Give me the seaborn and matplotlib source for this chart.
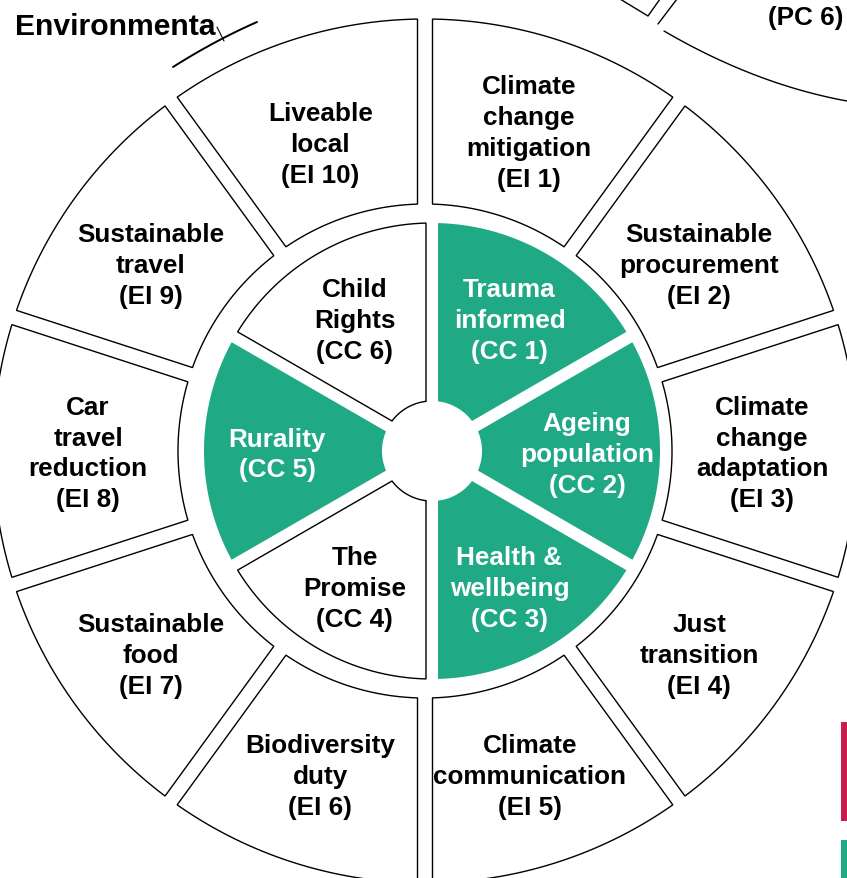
import numpy as np
import matplotlib.pyplot as plt
import seaborn as sns
from matplotlib.patches import Polygon, Rectangle

# ---- Daten ----
outer_labels = [
    "Climate\nchange\nmitigation\n(EI 1)",
    "Sustainable\nprocurement\n(EI 2)",
    "Climate\nchange\nadaptation\n(EI 3)",
    "Just\ntransition\n(EI 4)",
    "Climate\ncommunication\n(EI 5)",
    "Biodiversity\nduty\n(EI 6)",
    "Sustainable\nfood\n(EI 7)",
    "Car\ntravel\nreduction\n(EI 8)",
    "Sustainable\ntravel\n(EI 9)",
    "Liveable\nlocal\n(EI 10)",
]
inner_labels = [
    "Trauma\ninformed\n(CC 1)",
    "Ageing\npopulation\n(CC 2)",
    "Health &\nwellbeing\n(CC 3)",
    "The\nPromise\n(CC 4)",
    "Rurality\n(CC 5)",
    "Child\nRights\n(CC 6)",
]
inner_highlight = [True, True, True, False, True, False]

heading = "Environmenta"
neighbour_label = "(PC 6)"

# ---- Stil ----
GREEN = "#1fa985"
CRIMSON = "#c81d50"
W, H = 847, 879

sns.set_theme(style="white")
plt.rcParams["font.family"] = ["Liberation Sans", "DejaVu Sans"]
plt.rcParams["text.color"] = "black"


def sector(cx, cy, r0, r1, a_start, a_end, half_gap, n=120):
    """Ringsegment mit parallelen Spalten (Winkel in Grad)."""
    lo, hi = min(a_start, a_end), max(a_start, a_end)
    d1 = np.degrees(np.arcsin(half_gap / r1))
    d0 = np.degrees(np.arcsin(half_gap / r0))
    t_out = np.radians(np.linspace(lo + d1, hi - d1, n))
    t_in = np.radians(np.linspace(hi - d0, lo + d0, n))
    xs = np.concatenate([cx + r1 * np.cos(t_out), cx + r0 * np.cos(t_in)])
    ys = np.concatenate([cy + r1 * np.sin(t_out), cy + r0 * np.sin(t_in)])
    return np.column_stack([xs, ys])


fig = plt.figure(figsize=(W / 100, H / 100), dpi=100)
ax = fig.add_axes([0, 0, 1, 1])
ax.set_xlim(0, W)
ax.set_ylim(0, H)
ax.set_aspect("equal")
ax.axis("off")

txt = dict(ha="center", va="center", fontsize=18.8, fontweight="bold", linespacing=1.36)

# Aeusserer Ring (EI)
ocx, ocy = 425, H - 452
n_out = len(outer_labels)
step_out = 360 / n_out
for i, lab in enumerate(outer_labels):
    a0 = 90 - i * step_out
    a1 = a0 - step_out
    poly = sector(ocx, ocy, 247, 432, a0, a1, 7.5)
    ax.add_patch(Polygon(poly, closed=True, facecolor="white", edgecolor="black", lw=1.0))
    mid = np.radians((a0 + a1) / 2)
    # dreizeilige Texte sitzen etwas tiefer
    if lab.count("\n") < 3:
        rx, ry, dy = 339, 332, -9
    else:
        rx, ry, dy = 337, 337, -2
    ax.text(ocx + rx * np.cos(mid), ocy + ry * np.sin(mid) + dy, lab,
            color="black", **txt)

# Innerer Ring (CC)
icx, icy = 432, H - 452
n_in = len(inner_labels)
step_in = 360 / n_in
for i, (lab, hl) in enumerate(zip(inner_labels, inner_highlight)):
    a0 = 90 - i * step_in
    a1 = a0 - step_in
    poly = sector(icx, icy, 50, 228, a0, a1, 6)
    if hl:
        ax.add_patch(Polygon(poly, closed=True, facecolor=GREEN, edgecolor="none"))
    else:
        ax.add_patch(Polygon(poly, closed=True, facecolor="white", edgecolor="black", lw=1.0))
    mid = np.radians((a0 + a1) / 2)
    ax.text(icx + 155 * np.cos(mid), icy + 155 * np.sin(mid) - 3, lab,
            color="white" if hl else "black", **txt)

# Fragmente der Nachbardiagramme
ax.text(15, H - 35, heading, ha="left", va="baseline", fontsize=21.7, fontweight="bold")
ax.text(843, H - 25, neighbour_label, ha="right", va="baseline", fontsize=18.8, fontweight="bold")


def curve(p0, p1, p2, **kw):
    xs = np.array([p0[0], p1[0], p2[0]])
    ys = H - np.array([p0[1], p1[1], p2[1]])
    c = np.polyfit(xs, ys, 2)
    xx = np.linspace(xs[0], xs[-1], 60)
    ax.plot(xx, np.polyval(c, xx), color="black", **kw)


curve((173, 68), (214, 44), (257, 23), lw=1.4)
ax.plot([217, 224], [H - 28, H - 42], color="black", lw=0.8)
curve((664, 32), (733, 67), (847, 102), lw=1.0)
ax.plot([620, 648, 660], [H - 0, H - 17, H - 0], color="black", lw=1.0)
ax.plot([658, 677], [H - 25, H - 0], color="black", lw=1.0)

ax.add_patch(Rectangle((841, H - 822), 6, 99, facecolor=CRIMSON, edgecolor="none"))
ax.add_patch(Rectangle((841, 0), 6, H - 841, facecolor=GREEN, edgecolor="none"))

fig.savefig("out.png", dpi=100)
